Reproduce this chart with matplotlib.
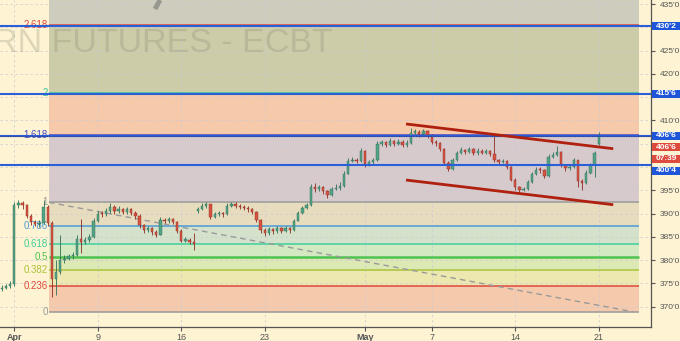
import matplotlib
matplotlib.use('Agg')
import matplotlib.pyplot as plt
import matplotlib.transforms as mtransforms
from matplotlib.patches import Rectangle
import numpy as np

# ---------------- data ----------------
tick_days = [0, 5, 10, 15, 21, 25, 30, 35]
tick_labels = ['Apr', '9', '16', '23', 'May', '7', '14', '21']
bold_ticks = ['Apr', 'May']
price_ticks = [370, 375, 380, 385, 390, 395, 400, 405, 410, 415, 420, 425, 430, 435]
hidden_price_ticks = [400, 405, 415, 430]

bar_start = -0.75   # trading-day index of first bar
bar_step = 0.25     # bars per trading day = 4

closes = [
    374.0, 374.4, 374.8, 391.8, 392.3, 391.9, 389.5, 388.2, 387.8, 388.0,
    391.5, 388.0, 376.0, 377.5, 380.0, 380.3, 380.8, 381.0, 384.5, 384.0,
    384.3, 385.0, 388.5, 390.0, 389.8, 390.5, 391.5, 390.5, 391.0, 390.4,
    390.9, 390.2, 389.5, 387.5, 386.5, 386.8, 386.0, 385.5, 388.6, 388.4,
    388.8, 388.2, 386.3, 384.2, 384.4, 384.0, 383.5, 391.0, 391.6, 392.0,
    389.3, 389.8, 390.0, 389.8, 391.7, 392.1, 391.6, 391.4, 391.2, 391.0,
    390.3, 388.6, 386.5, 385.8, 386.6, 386.2, 386.8, 386.3, 386.9, 386.4,
    388.5, 390.2, 391.2, 391.8, 395.7, 395.2, 395.6, 394.8, 393.9, 395.3,
    395.5, 396.0, 398.6, 401.3, 401.6, 401.2, 403.5, 400.5, 401.0, 401.5,
    405.0, 405.3, 404.8, 405.6, 405.0, 405.4, 404.7, 405.2, 407.4, 407.6,
    407.0, 407.7, 406.8, 405.4, 405.1, 403.8, 400.9, 399.5, 401.5, 403.0,
    403.6, 403.2, 403.8, 402.9, 403.5, 403.1, 403.4, 402.8, 401.5, 401.1,
    401.3, 400.0, 397.3, 395.6, 395.0, 395.3, 396.8, 398.5, 399.4, 399.3,
    398.0, 402.2, 402.6, 403.3, 400.4, 399.7, 400.0, 401.4, 397.0, 396.5,
    398.8, 400.4, 402.9, 406.75]
highs = [
    374.6, 374.9, 375.5, 392.5, 392.9, 392.6, 392.0, 389.8, 388.6, 388.7,
    393.0, 391.8, 388.3, 380.0, 385.4, 381.0, 381.4, 381.8, 385.5, 388.8,
    385.0, 385.6, 389.0, 390.6, 390.6, 391.2, 392.3, 391.8, 391.6, 391.3,
    391.5, 391.2, 390.5, 389.8, 387.8, 387.4, 387.1, 386.4, 389.2, 389.1,
    389.3, 389.0, 388.5, 386.6, 385.0, 384.8, 385.8, 391.5, 392.2, 392.5,
    392.1, 390.3, 390.5, 390.4, 392.2, 392.5, 392.4, 392.0, 391.8, 391.6,
    391.2, 390.5, 388.8, 386.8, 387.2, 386.9, 387.3, 387.1, 387.4, 387.2,
    388.9, 390.6, 391.7, 392.3, 396.3, 396.6, 396.1, 395.9, 395.0, 395.8,
    396.3, 396.8, 399.2, 401.9, 402.2, 401.9, 404.0, 403.7, 401.6, 402.0,
    405.6, 405.9, 405.6, 406.2, 405.9, 406.0, 405.7, 405.8, 408.3, 408.1,
    407.9, 408.2, 408.0, 407.0, 405.8, 405.3, 404.0, 401.2, 401.9, 403.5,
    404.2, 403.9, 404.3, 404.0, 404.0, 403.8, 403.9, 403.7, 406.9, 401.8,
    401.8, 401.5, 400.2, 397.6, 395.9, 395.8, 397.3, 399.0, 399.9, 399.9,
    399.5, 402.7, 403.2, 404.6, 403.5, 400.7, 400.6, 401.9, 401.6, 397.4,
    399.3, 400.9, 403.4, 407.6]
lows = [
    373.4, 373.7, 374.0, 374.5, 391.2, 391.0, 389.0, 387.6, 387.3, 387.2,
    387.8, 387.4, 372.1, 372.6, 377.0, 379.4, 380.0, 380.3, 380.8, 381.5,
    383.5, 383.8, 384.8, 388.2, 389.2, 389.4, 390.2, 390.0, 390.1, 389.9,
    390.0, 389.6, 388.9, 387.0, 385.9, 386.0, 385.5, 385.0, 385.3, 387.9,
    388.0, 387.8, 385.9, 383.8, 383.8, 383.5, 382.2, 390.2, 390.8, 391.2,
    388.9, 389.0, 389.4, 389.3, 389.6, 391.4, 391.2, 390.9, 390.7, 390.4,
    389.8, 388.1, 385.9, 385.2, 385.4, 385.6, 385.9, 385.8, 386.0, 385.9,
    386.2, 388.3, 389.9, 391.0, 391.6, 394.7, 394.8, 394.2, 393.4, 393.7,
    395.0, 395.1, 395.8, 398.4, 401.0, 400.8, 401.0, 400.0, 400.2, 400.7,
    401.3, 404.6, 404.3, 404.5, 404.6, 404.8, 404.2, 404.4, 405.0, 407.0,
    406.5, 406.7, 406.3, 405.0, 404.6, 403.4, 400.5, 399.2, 399.3, 401.2,
    402.7, 402.8, 402.9, 402.5, 402.6, 402.7, 402.8, 402.3, 401.0, 400.6,
    400.8, 399.5, 396.9, 395.1, 394.7, 394.8, 395.1, 396.6, 398.2, 398.8,
    397.6, 397.8, 402.0, 402.3, 400.0, 399.2, 399.3, 399.8, 395.6, 395.1,
    396.3, 398.5, 397.9, 404.8]
first_open = 373.8
gap_opens = {47: 390.6, 143: 405.0}

# Fibonacci extension tool
fib_start_day = 2.08
fib_end_day = 37.4
fib_trend_end_day = 37.07
fib_price_0 = 368.9
fib_price_1 = 392.4
fib_ratios = [0, 0.236, 0.382, 0.5, 0.618, 0.786, 1, 1.618, 2, 2.618, 3.618]
fib_labels = ['0', '0.236', '0.382', '0.5', '0.618', '0.786', '1', '1.618', '2', '2.618', '3.618']
fib_line_colors = ['#9a9a9a', '#e0483c', '#a9c33c', '#4fc24f', '#3fcf9c', '#4b9bd6',
                   '#9a9a9a', '#4a4ac4', '#35c49c', '#e0483c', '#9a9a9a']
fib_fill_colors = ['#f5c9ac', '#ece8b0', '#dde9b5', '#d3e9c2', '#d5e2cb', '#e8dcbe',
                   '#d6cacd', '#f5c9aa', '#cdcca8', '#cecdbd']

# horizontal lines and labels
h_levels = [430.25, 415.75, 406.75, 400.5]
h_label_shift_px = [0, 0, 0, 6]
last_price = 406.75
countdown = '07:39'

# channel lines
channel_days = [23.46, 35.87]
channel_upper = [409.24, 403.93]
channel_lower = [397.2, 391.9]

watermark = 'CORN FUTURES - ECBT'

# ---------------- style ----------------
BG = '#fef3d2'
XLIM = (-0.856, 38.13)
YLIM = (365.64, 435.86)
W, H = 680, 341
AX_L, AX_B, AX_W, AX_H = 0, 14, 651, 327

fig = plt.figure(figsize=(W / 100, H / 100), dpi=100, facecolor=BG)
ax = fig.add_axes([AX_L / W, AX_B / H, AX_W / W, AX_H / H])
ax.set_facecolor(BG)
ax.set_xlim(*XLIM)
ax.set_ylim(*YLIM)
ppu = AX_H / (YLIM[1] - YLIM[0])  # pixels per price unit

def fmt(p):
    whole = int(np.floor(p + 1e-9))
    eighth = int(round((p - whole) * 8))
    return f"{whole}'{eighth}"

# grid
for d in tick_days:
    ax.axvline(d, color='#c9c9d6', lw=0.6, ls=(0, (3, 3)), zorder=0.8, alpha=0.8)
for p in price_ticks:
    ax.axhline(p, color='#c9c9d6', lw=0.6, ls=(0, (3, 3)), zorder=0.8, alpha=0.8)

# Fibonacci fills, lines, labels
fib_prices = [fib_price_0 + r * (fib_price_1 - fib_price_0) for r in fib_ratios]
for i in range(len(fib_prices) - 1):
    ax.fill_between([fib_start_day, fib_end_day], fib_prices[i], fib_prices[i + 1],
                    color=fib_fill_colors[i], lw=0, zorder=0.5)
for i, (p, lab, col) in enumerate(zip(fib_prices, fib_labels, fib_line_colors)):
    if not (YLIM[0] < p < YLIM[1]):
        continue
    lw = 1.8 if lab == '0.5' else 1.1
    ax.plot([fib_start_day, fib_end_day], [p, p], color=col, lw=lw, zorder=1.0,
            solid_capstyle='butt')
    ax.text(fib_start_day - 0.08, p, lab, color=col, fontsize=7, ha='right',
            va='center', family='Liberation Sans', zorder=1.1)

# trend line of the fib tool
ax.plot([fib_start_day, fib_trend_end_day], [fib_price_1, fib_price_0],
        color='#9a9a9a', lw=1.0, ls=(0, (4, 3)), zorder=1.2)

# watermark
ax.text(333 / AX_W, 1 - 52 / AX_H, watermark, transform=ax.transAxes,
        fontsize=24.5, family='Liberation Sans', color='#808070', alpha=0.25,
        ha='right', va='baseline', zorder=0.9)
ax.plot([155 / AX_W, 160 / AX_W], [1 - 9 / AX_H, 1.0], transform=ax.transAxes,
        color='#6a6a6a', alpha=0.55, lw=3.5, solid_capstyle='butt', zorder=0.9)

# candles
n = len(closes)
xs = bar_start + bar_step * np.arange(n)
opens = [first_open] + closes[:-1]
for k, v in gap_opens.items():
    opens[k] = v
opens = np.array(opens)
cl = np.array(closes)
up = cl >= opens
up_col, dn_col = '#53a386', '#d75442'
cols = np.where(up, up_col, dn_col)
edge = np.where(up, '#2f6e57', '#8a2a20')
ax.vlines(xs, lows, highs, colors=edge, lw=0.6, zorder=2)
heights = np.maximum(np.abs(cl - opens), 0.25)
bottoms = np.minimum(cl, opens)
ax.bar(xs, heights, bottom=bottoms, width=0.14, color=cols, edgecolor=edge,
       linewidth=0.3, zorder=2.1)

# horizontal blue lines
for p in h_levels:
    ax.axhline(p, color='#2a5fd8', lw=1.5, zorder=3)
ax.axhline(last_price, color='#3a3a7a', lw=0.8, ls=(0, (1, 1.2)), zorder=3.1)

# channel
ax.plot(channel_days, channel_upper, color='#b0200f', lw=2.0, zorder=3.5,
        solid_capstyle='butt')
ax.plot(channel_days, channel_lower, color='#b0200f', lw=2.0, zorder=3.5,
        solid_capstyle='butt')

# axes styling
for s in ['left', 'top']:
    ax.spines[s].set_visible(False)
for s in ['right', 'bottom']:
    ax.spines[s].set_color('#555555')
    ax.spines[s].set_linewidth(0.9)
ax.yaxis.tick_right()
ax.set_yticks(price_ticks)
ax.set_yticklabels(['' if p in hidden_price_ticks else fmt(p) for p in price_ticks],
                   family='Liberation Sans', fontsize=6, color='#555555')
ax.tick_params(axis='y', length=3, width=0.8, color='#555555', pad=3)
ax.set_xticks(tick_days)
ax.set_xticklabels(tick_labels, family='Liberation Sans', fontsize=6.5, color='#555555')
for t in ax.get_xticklabels():
    if t.get_text() in bold_ticks:
        t.set_fontweight('bold')
ax.tick_params(axis='x', length=3, width=0.8, color='#555555', pad=1.5)

# price label boxes on the right axis
blend = mtransforms.blended_transform_factory(fig.transFigure, ax.transData)
box_h = 8.0 / ppu

def price_box(price, text, color, shift_px=0.0):
    yc = price - shift_px / ppu
    ax.add_patch(Rectangle((652 / W, yc - box_h / 2), 28 / W, box_h, transform=blend,
                           facecolor=color, edgecolor='none', clip_on=False, zorder=5))
    ax.text(666 / W, yc, text, transform=blend, color='white', fontsize=6,
            family='Liberation Sans', fontweight='bold', ha='center', va='center',
            clip_on=False, zorder=6)

for p, sh in zip(h_levels, h_label_shift_px):
    price_box(p, fmt(p), '#1f56d9', sh)
price_box(last_price, fmt(last_price), '#dd4b3e', 11.5)
price_box(last_price, countdown, '#dd4b3e', 23.0)

fig.savefig('out.png', dpi=100, facecolor=BG)
